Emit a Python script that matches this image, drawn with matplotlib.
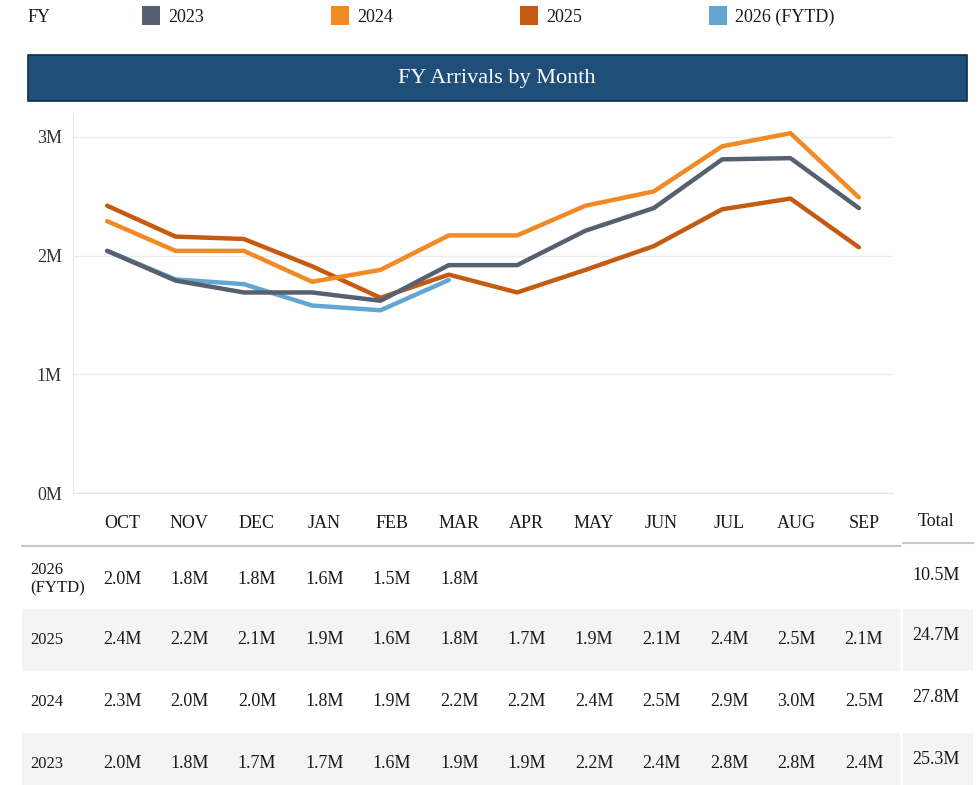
import matplotlib
matplotlib.use("Agg")
import matplotlib.pyplot as plt
from matplotlib.patches import Rectangle

plt.rcParams['font.family'] = ['Liberation Serif', 'DejaVu Serif']

months = ["OCT", "NOV", "DEC", "JAN", "FEB", "MAR", "APR", "MAY", "JUN", "JUL", "AUG", "SEP"]

# arrivals in millions
fy2023 = [2.04, 1.79, 1.69, 1.69, 1.62, 1.92, 1.92, 2.21, 2.40, 2.81, 2.82, 2.40]
fy2024 = [2.29, 2.04, 2.04, 1.78, 1.88, 2.17, 2.17, 2.42, 2.54, 2.92, 3.03, 2.49]
fy2025 = [2.42, 2.16, 2.14, 1.91, 1.645, 1.84, 1.69, 1.88, 2.08, 2.39, 2.48, 2.07]
fy2026 = [2.04, 1.80, 1.76, 1.58, 1.54, 1.795]

series_names = ["2023", "2024", "2025", "2026 (FYTD)"]
colors = {"2023": "#56606e", "2024": "#f28a24", "2025": "#c55a11", "2026 (FYTD)": "#62a6d3"}

fig = plt.figure(figsize=(9.77, 7.85), dpi=100)

# overlay in pixel coordinates for legend, title bar and table
ov = fig.add_axes([0, 0, 1, 1])
ov.set_xlim(0, 977)
ov.set_ylim(785, 0)
ov.axis("off")

# legend row
ov.text(28, 17, "FY", fontsize=13, va="center", ha="left", color="#1a1a1a")
leg_x = [142, 331, 520, 709]
for name, lx in zip(series_names, leg_x):
    ov.add_patch(Rectangle((lx, 6), 18, 19, facecolor=colors[name], edgecolor="none"))
    ov.text(lx + 26, 17, name, fontsize=13, va="center", ha="left", color="#1a1a1a")

# title bar
ov.add_patch(Rectangle((28, 55), 939, 46, facecolor="#1f4e79", edgecolor="#0f2e4c", linewidth=1.2))
ov.text(497, 79, "FY Arrivals by Month", fontsize=16, color="white", ha="center", va="center")

# line chart
ax = fig.add_axes([73 / 977, 1 - 493.3 / 785, (893 - 73) / 977, (493.3 - 113) / 785])
x = list(range(len(months)))
ax.plot(x, fy2025, color=colors["2025"], linewidth=3.2, zorder=3, solid_capstyle="round")
ax.plot(x, fy2024, color=colors["2024"], linewidth=3.2, zorder=4, solid_capstyle="round")
ax.plot(x[:len(fy2026)], fy2026, color=colors["2026 (FYTD)"], linewidth=3.2, zorder=5, solid_capstyle="round")
ax.plot(x, fy2023, color=colors["2023"], linewidth=3.2, zorder=6, solid_capstyle="round")
ax.set_xlim(-0.5, 11.5)
ax.set_ylim(0, 3.2)
ax.set_yticks([0, 1, 2, 3])
ax.set_yticklabels(["0M", "1M", "2M", "3M"])
ax.set_xticks([])
ax.tick_params(axis="y", length=0, labelsize=13, labelcolor="#333333", pad=8)
ax.grid(axis="y", color="#ececec", linewidth=1)
for s in ["top", "right"]:
    ax.spines[s].set_visible(False)
ax.spines["left"].set_color("#e6e6e6")
ax.spines["bottom"].set_color("#e6e6e6")

# table
col_x = [122 + i * 67.45 for i in range(len(months))]
for m, cx in zip(months, col_x):
    ov.text(cx, 524, m, fontsize=13, ha="center", va="center", color="#1a1a1a")
ov.text(936, 521, "Total", fontsize=13, ha="center", va="center", color="#1a1a1a")
ov.plot([22, 900], [546, 546], color="#c8c8c8", linewidth=1.5)
ov.plot([903, 973], [543, 543], color="#c8c8c8", linewidth=1.5)

rows = [("2026\n(FYTD)", fy2026), ("2025", fy2025), ("2024", fy2024), ("2023", fy2023)]
row_top = [548, 609, 671, 733]
row_h = [61, 62, 62, 52]
for i, ((label, vals), top, h) in enumerate(zip(rows, row_top, row_h)):
    if i % 2 == 1:
        ov.add_patch(Rectangle((22, top), 878, h, facecolor="#f4f4f4", edgecolor="none"))
        ov.add_patch(Rectangle((903, top), 70, h, facecolor="#f4f4f4", edgecolor="none"))
    cy = top + 31
    ov.text(30, cy, label, fontsize=12, ha="left", va="center", color="#1a1a1a", linespacing=1.15)
    for v, cx in zip(vals, col_x):
        ov.text(cx, cy, f"{v:.1f}M", fontsize=13, ha="center", va="center", color="#1a1a1a")
    ov.text(936, cy - 4, f"{sum(vals):.1f}M", fontsize=13, ha="center", va="center", color="#1a1a1a")

fig.savefig("out.png", dpi=100)
